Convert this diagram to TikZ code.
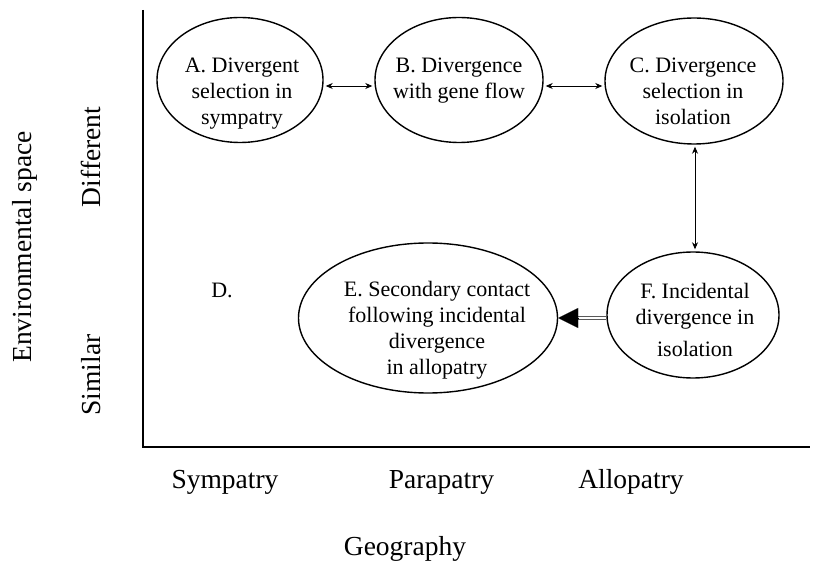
\documentclass[tikz,border=0pt]{standalone}
\usepackage{fontspec}
\setmainfont{Liberation Serif}
\usetikzlibrary{shapes.geometric,arrows.meta}
\begin{document}
\begin{tikzpicture}[x=1pt,y=-1pt,
  oval/.style={draw,ellipse,line width=1.4pt,inner sep=0pt},
  otext/.style={align=center,inner sep=0pt,font=\fontsize{22}{26}\selectfont},
  lbl/.style={font=\fontsize{27.5}{32}\selectfont,inner sep=0pt,anchor=base},
  biarrow/.style={{Stealth[length=7pt,width=6pt]}-{Stealth[length=7pt,width=6pt]},line width=0.9pt,shorten <=2pt,shorten >=2pt},
  axis/.style={line width=2.4pt}]
\useasboundingbox (0,0) rectangle (814,561);
\coordinate (top) at (143,10);
\coordinate (orig) at (143,447);
\coordinate (xend) at (810,447);
\draw[axis] (top) -- (orig) -- (xend);

\node[oval,minimum width=166pt,minimum height=125pt] (A) at (240,80) {};
\node[oval,minimum width=168pt,minimum height=125pt] (B) at (459,80) {};
\node[oval,minimum width=178pt,minimum height=126pt] (C) at (694,81) {};
\node[oval,minimum width=172pt,minimum height=126pt] (F) at (693,315) {};
\node[oval,minimum width=259pt,minimum height=150pt] (E) at (428,318) {};

\node[otext] (At) at (242,94) {A. Divergent\\selection in\\sympatry};
\node[otext] (Bt) at (459,80.5) {B. Divergence\\with gene flow};
\node[otext] (Ct) at (693,91) {C. Divergence\\selection in\\isolation};
\node[otext] (Ft) at (695,320) {F. Incidental\\divergence in\\[6pt]isolation};
\node[otext] (Et) at (437,330.5) {E. Secondary contact\\following incidental\\divergence\\in allopatry};
\node[otext] (D) at (222,290) {D.};

\draw[biarrow] (A.east |- 0,86) -- (B.west |- 0,86);
\draw[biarrow] (B.east |- 0,86) -- (C.west |- 0,86);
\draw[biarrow] (C.south -| 695,0) -- (F.north -| 695,0);

\coordinate (tb) at (578,318);
\draw[double=white,double distance=2pt,line width=1.4pt,draw=black!65] (F.west |- tb) -- (tb);
\draw[-{Triangle[length=20pt,width=20pt]},line width=0.1pt] (tb) -- (E.east |- tb);

\node[lbl,rotate=90] (env) at (31,247) {Environmental space};
\node[lbl,rotate=90] (diff) at (100,157) {Different};
\node[lbl,rotate=90] (sim) at (100,375) {Similar};
\node[lbl] (sym) at (225,488) {Sympatry};
\node[lbl] (para) at (441.5,488) {Parapatry};
\node[lbl] (allo) at (631,488) {Allopatry};
\node[lbl] (geo) at (405,555) {Geography};
\end{tikzpicture}
\end{document}
